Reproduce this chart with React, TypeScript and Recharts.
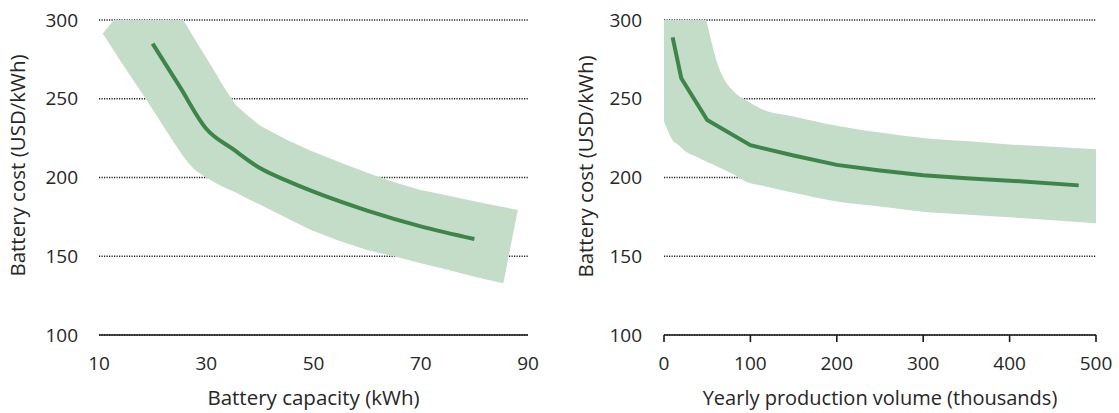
import React from 'react';
import { ComposedChart, Area, Line, XAxis, YAxis, CartesianGrid, Label } from 'recharts';

// Left panel: battery capacity (kWh) vs battery cost (USD/kWh)
const capacityX = [20, 25, 30, 35, 40, 45, 50, 60, 70, 80];
const capacityCost = [285, 258, 231, 218, 206, 198, 191, 179, 169, 161];
const capacityBandX = [10.7, 14, 18.8, 22, 24, 25.7, 26.8, 28, 30, 32, 33, 35.5, 38, 40, 45, 49.5, 55, 60, 65.5, 70, 75, 80, 85.4, 88.1];
const capacityBandLow = [291.5, 274, 249.6, 232.5, 222, 213.5, 208.5, 204.5, 200, 196, 194.3, 190.5, 186, 182.8, 174.3, 166.7, 159.5, 154, 149.5, 145.5, 141.5, 137, 132.8, 179.4];
const capacityBandHigh = [291.5, 305, 318, 318, 310, 300, 294, 287, 276, 265, 259, 246, 238.5, 233, 224, 217, 209.5, 203, 196.5, 192, 188.5, 185, 181.3, 179.4];
const capacityTicks = [10, 30, 50, 70, 90];

// Right panel: yearly production volume (thousands) vs battery cost
const volumeX = [10, 20, 50, 100, 150, 200, 250, 300, 350, 400, 480];
const volumeCost = [289, 263, 236.5, 220.5, 214, 208, 204.5, 201.5, 199.5, 198, 195];
const volumeBandX = [0, 5, 10, 15, 25, 40, 49, 55, 62, 70, 80, 95, 115, 150, 200, 250, 300, 350, 400, 450, 500];
const volumeBandLow = [235.5, 229, 223.5, 221.5, 216.5, 212.6, 210.2, 208.7, 206.8, 204.8, 202.2, 197.3, 194.6, 190.3, 184.8, 181.6, 178.3, 176.5, 174.7, 172.9, 171];
const volumeBandHigh = [340, 338, 336, 334, 328, 318, 300, 286, 272, 262, 255, 249, 243, 238.8, 232.9, 228.5, 225.1, 223.1, 221, 219.5, 218];
const volumeTicks = [0, 100, 200, 300, 400, 500];

const costTicks = [100, 150, 200, 250, 300];

const capacityLine = capacityX.map((x, i) => ({ x, y: capacityCost[i] }));
const capacityBand = capacityBandX.map((x, i) => ({ x, range: [capacityBandLow[i], capacityBandHigh[i]] }));
const volumeLine = volumeX.map((x, i) => ({ x, y: volumeCost[i] }));
const volumeBand = volumeBandX.map((x, i) => ({ x, range: [volumeBandLow[i], volumeBandHigh[i]] }));

const FONT = '"Open Sans", sans-serif';
const TEXT = '#262626';
const BAND = '#c4ddc9';
const LINE = '#3d8549';
const TICK_SIZE = 19;
const TITLE_SIZE = 20.5;

const yTitle = (baseX: number, offY: number) => (props: any) => {
  const vb = props.viewBox || { x: 0, y: 20, width: 100, height: 315 };
  const cx = vb.x + baseX;
  const cy = vb.y + vb.height / 2 + offY;
  return (
    <text x={cx} y={cy} transform={`rotate(-90, ${cx}, ${cy})`} textAnchor="middle"
      fontFamily={FONT} fontSize={TITLE_SIZE} fill={TEXT}>
      Battery cost (USD/kWh)
    </text>
  );
};

const xTitle = (text: string, dy: number, size: number) => (props: any) => {
  const vb = props.viewBox || { x: 0, y: 335, width: 400, height: 78 };
  return (
    <text x={vb.x + vb.width / 2} y={vb.y + dy} textAnchor="middle"
      fontFamily={FONT} fontSize={size} fill={TEXT}>
      {text}
    </text>
  );
};

const tickStyle = { fontFamily: FONT, fontSize: TICK_SIZE, fill: TEXT };

export default function App() {
  return (
    <div style={{ position: 'absolute', left: 0, top: 0, width: 1119, height: 413, background: '#fff' }}>
      <div style={{ position: 'absolute', left: 0, top: 0 }}>
        <ComposedChart width={560} height={413} margin={{ top: 20, right: 32, bottom: 0, left: 0 }}>
          <CartesianGrid horizontal vertical={false} stroke="#222" strokeWidth={1.5} strokeDasharray="1.2 1.3" />
          <XAxis type="number" dataKey="x" domain={[10, 90]} ticks={capacityTicks} allowDataOverflow
            height={78} tickLine={false} tickSize={0} tickMargin={22}
            axisLine={{ stroke: '#1a1a1a', strokeWidth: 1.6 }} tick={tickStyle}>
            <Label content={xTitle('Battery capacity (kWh)', 70, TITLE_SIZE)} />
          </XAxis>
          <YAxis type="number" domain={[100, 300]} ticks={costTicks} allowDataOverflow
            width={99} tickLine={false} axisLine={false} tickSize={0} tickMargin={21} tick={tickStyle}>
            <Label content={yTitle(25, -12)} />
          </YAxis>
          <Area data={capacityBand} dataKey="range" type="linear" stroke="none" fill={BAND} fillOpacity={1} isAnimationActive={false} />
          <Line data={capacityLine} dataKey="y" type="monotone" stroke={LINE} strokeWidth={4} dot={false} isAnimationActive={false} />
        </ComposedChart>
      </div>
      <div style={{ position: 'absolute', left: 560, top: 0 }}>
        <ComposedChart width={559} height={413} margin={{ top: 20, right: 23, bottom: 0, left: 0 }}>
          <CartesianGrid horizontal vertical={false} stroke="#222" strokeWidth={1.5} strokeDasharray="1.2 1.3" />
          <XAxis type="number" dataKey="x" domain={[0, 500]} ticks={volumeTicks} allowDataOverflow
            height={78} tickLine={{ stroke: '#1a1a1a', strokeWidth: 1.6 }} tickSize={7} tickMargin={15}
            axisLine={{ stroke: '#1a1a1a', strokeWidth: 1.6 }} tick={tickStyle}>
            <Label content={xTitle('Yearly production volume (thousands)', 70, 20)} />
          </XAxis>
          <YAxis type="number" domain={[100, 300]} ticks={costTicks} allowDataOverflow
            width={104} tickLine={false} axisLine={false} tickSize={0} tickMargin={22} tick={tickStyle}>
            <Label content={yTitle(33, -11)} />
          </YAxis>
          <Area data={volumeBand} dataKey="range" type="monotone" stroke="none" fill={BAND} fillOpacity={1} isAnimationActive={false} />
          <Line data={volumeLine} dataKey="y" type="linear" stroke={LINE} strokeWidth={4} dot={false} isAnimationActive={false} />
        </ComposedChart>
      </div>
    </div>
  );
}
